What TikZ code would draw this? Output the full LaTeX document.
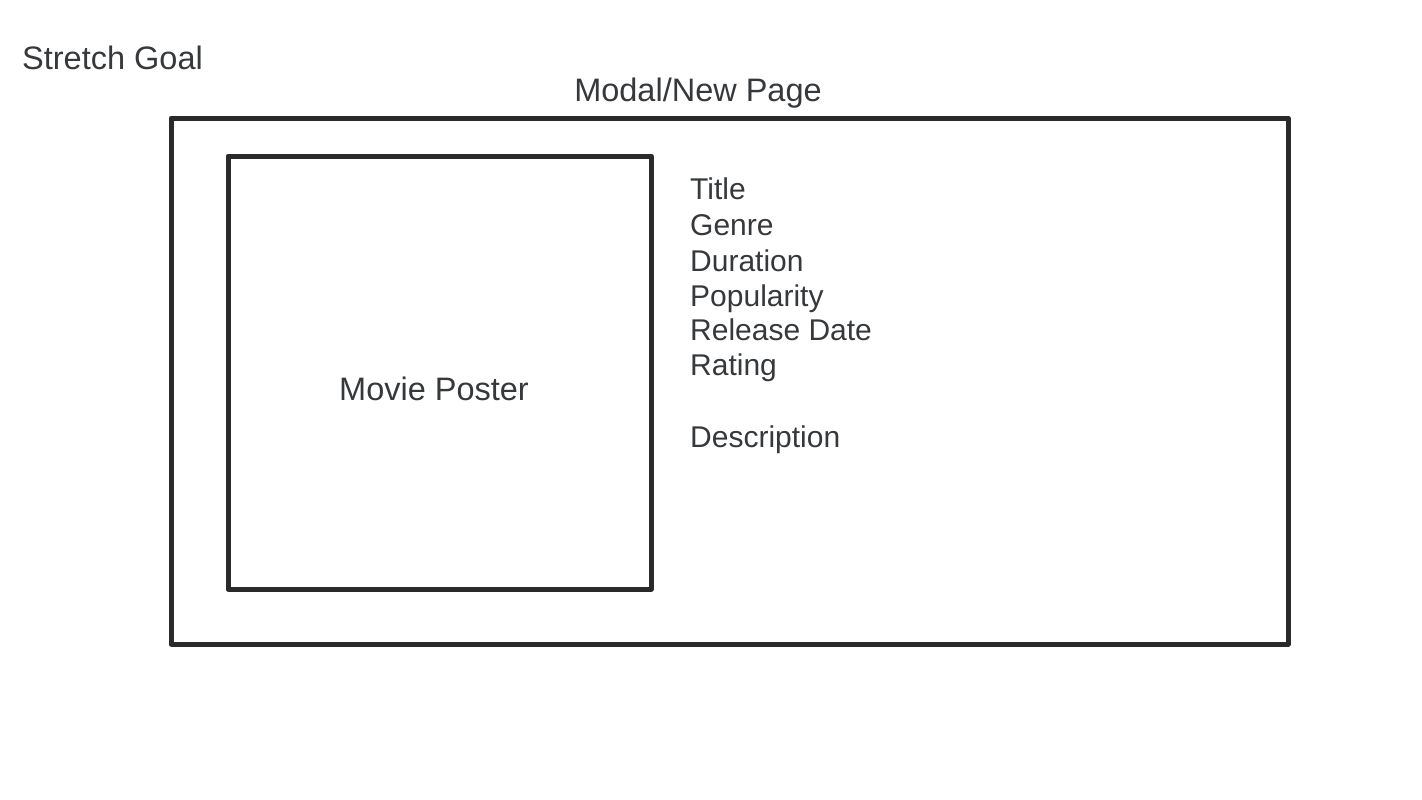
\documentclass[tikz,border=0pt]{standalone}
\usepackage{fontspec}
\setmainfont{Liberation Sans}
\definecolor{ink}{HTML}{36393C}
\definecolor{edge}{HTML}{2A2A2A}
\begin{document}
\begin{tikzpicture}[x=1pt,y=-1pt,
  lbl/.style={inner sep=0pt,text=ink,font=\fontsize{32.5}{36}\selectfont},
  item/.style={lbl,anchor=base west,font=\fontsize{30}{34}\selectfont},
  frame/.style={draw=edge,line width=5pt,line join=round}]
\useasboundingbox (0,0) rectangle (1422,800);
\draw[frame] (171,118) rectangle (1288,644);
\draw[frame] (228,156) rectangle (651,589);
\node[lbl,anchor=base west] (sg) at (22,70) {Stretch Goal};
\node[lbl,anchor=base] (mp) at (698,101) {Modal/New Page};
\node[lbl,anchor=base] (poster) at (434,400) {Movie Poster};
\node[item] (t1) at (690,199) {Title};
\node[item] (t2) at (690,235) {Genre};
\node[item] (t3) at (690,271) {Duration};
\node[item] (t4) at (690,306) {Popularity};
\node[item] (t5) at (690,340) {Release Date};
\node[item] (t6) at (690,375) {Rating};
\node[item] (t7) at (690,447) {Description};
\end{tikzpicture}
\end{document}
